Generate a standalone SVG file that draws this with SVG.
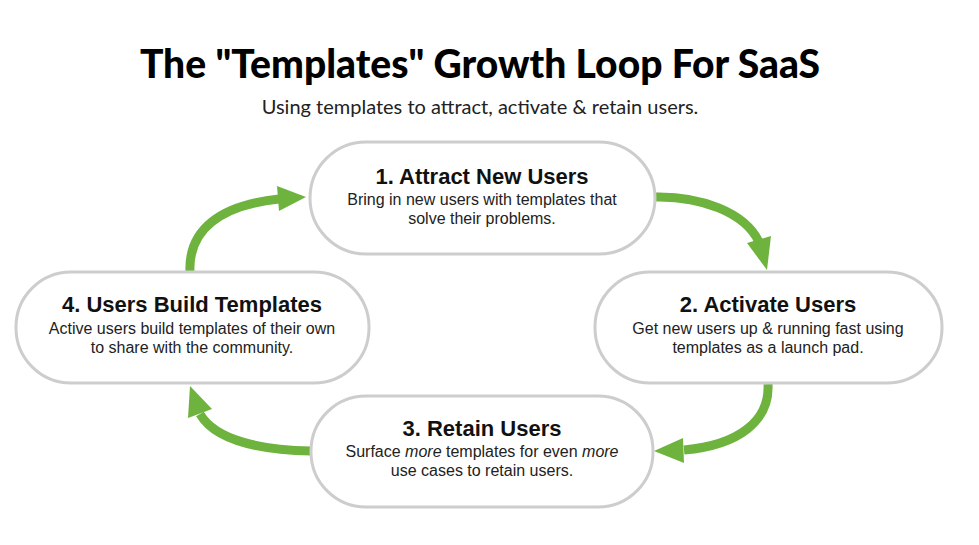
<svg xmlns="http://www.w3.org/2000/svg" width="979" height="545" viewBox="0 0 979 545">
<style>
.node{fill:#fff;stroke:#cdcdcd;stroke-width:3}
.nt{font-family:"Liberation Sans",Arial,sans-serif;font-weight:bold;font-size:22px;fill:#111;text-anchor:middle}
.nb{font-family:"Liberation Sans",Arial,sans-serif;font-size:16px;fill:#222;text-anchor:middle}
.shaft{fill:none;stroke:#6fb33f;stroke-width:9}
.head{fill:#6fb33f}
</style>
<rect width="979" height="545" fill="#fff"/>
<text x="480" y="78" font-family="Lato,sans-serif" font-weight="900" font-size="39" fill="#000" text-anchor="middle">The "Templates" Growth Loop For SaaS</text>
<text x="480" y="114" font-family="Lato,sans-serif" font-size="20" fill="#222" text-anchor="middle">Using templates to attract, activate &amp; retain users.</text>
<g id="connectors">
<path class="shaft" d="M 655 197 C 700 196 745 212 759 242"/>
<polygon class="head" points="747,243 771,236 767,270"/>
<path class="shaft" d="M 768 384 C 770 420 740 445 684 450"/>
<polygon class="head" points="683,438 684,463 654,451"/>
<path class="shaft" d="M 311 451 C 260 450 215 440 200 414"/>
<polygon class="head" points="188,418 212,409 190,386"/>
<path class="shaft" d="M 190 272 C 188 230 220 205 279 199"/>
<polygon class="head" points="277,186 279,211 306,197"/>
</g>
<g id="node1">
<rect class="node" x="310" y="142" width="345" height="112" rx="56"/>
<text class="nt" x="482" y="184">1. Attract New Users</text>
<text class="nb" x="482" y="205">Bring in new users with templates that</text>
<text class="nb" x="482" y="224">solve their problems.</text>
</g>
<g id="node2">
<rect class="node" x="595" y="272" width="347" height="111" rx="55"/>
<text class="nt" x="768" y="312">2. Activate Users</text>
<text class="nb" x="768" y="334">Get new users up &amp; running fast using</text>
<text class="nb" x="768" y="353">templates as a launch pad.</text>
</g>
<g id="node3">
<rect class="node" x="311" y="396" width="342" height="111" rx="55"/>
<text class="nt" x="482" y="436">3. Retain Users</text>
<text class="nb" x="482" y="457">Surface <tspan font-style="italic">more</tspan> templates for even <tspan font-style="italic">more</tspan></text>
<text class="nb" x="482" y="476">use cases to retain users.</text>
</g>
<g id="node4">
<rect class="node" x="16" y="272" width="353" height="111" rx="55"/>
<text class="nt" x="192" y="312">4. Users Build Templates</text>
<text class="nb" x="192" y="334">Active users build templates of their own</text>
<text class="nb" x="192" y="353">to share with the community.</text>
</g>
</svg>
